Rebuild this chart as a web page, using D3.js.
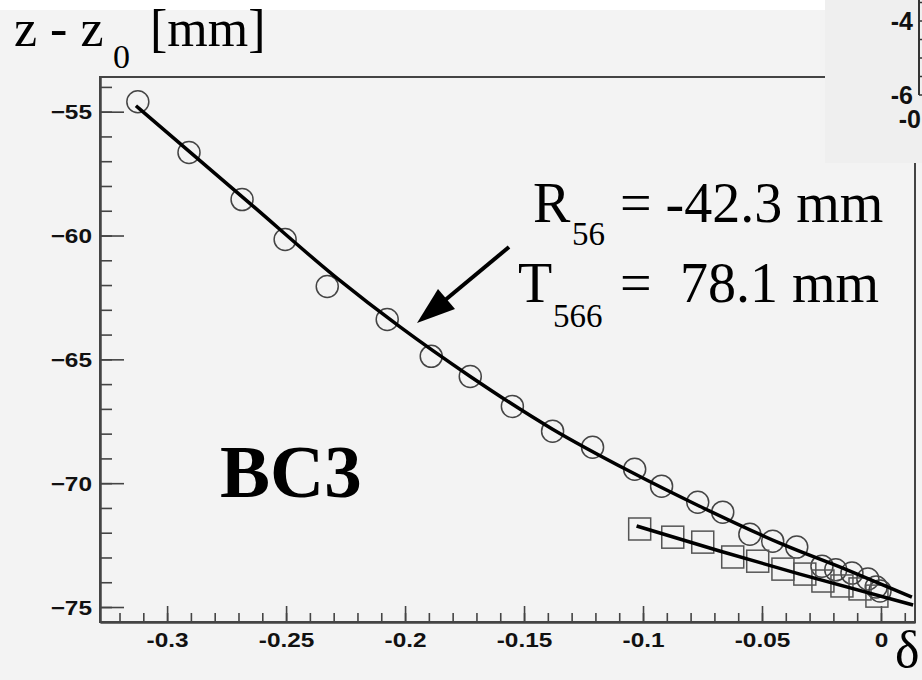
<!DOCTYPE html>
<html>
<head>
<meta charset="utf-8">
<script src="https://cdn.jsdelivr.net/npm/d3@7"></script>
<style>
  body { margin: 0; background: #fff; }
  svg { display: block; }
  .serif { font-family: "Liberation Serif", "Times New Roman", serif; fill: #000; }
</style>
</head>
<body>
<script>
"use strict";
var svg_width = 922;
var svg_height = 680;

// measured points, circles (upper set) and squares (lower set)
var circle_delta = [-0.3123, -0.2908, -0.2685, -0.2504, -0.2327, -0.2075, -0.189, -0.1726, -0.1549, -0.138, -0.1212, -0.1035, -0.0922, -0.077, -0.0665, -0.0551, -0.0455, -0.0354, -0.0248, -0.019, -0.0122, -0.0055, -0.002, -0.0004];
var circle_z = [-54.6, -56.65, -58.55, -60.16, -62.06, -63.39, -64.88, -65.69, -66.9, -67.9, -68.55, -69.44, -70.12, -70.77, -71.17, -72.06, -72.34, -72.58, -73.35, -73.5, -73.63, -73.87, -74.19, -74.35];
var square_delta = [-0.1014, -0.0875, -0.0749, -0.0623, -0.0518, -0.0412, -0.032, -0.0244, -0.0164, -0.0088, -0.0017];
var square_z = [-71.85, -72.18, -72.38, -72.98, -73.15, -73.47, -73.67, -73.95, -74.15, -74.27, -74.56];

// fit curves
var fit_upper_delta = [-0.3131, -0.2656, -0.2285, -0.2024, -0.1726, -0.138, -0.1056, -0.0762, -0.0425, -0.013, 0.013];
var fit_upper_z = [-54.76, -58.67, -61.73, -63.67, -65.69, -67.82, -69.52, -70.93, -72.42, -73.55, -74.6];
var fit_lower_delta = [-0.1027, -0.0678, -0.0341, 0.0135];
var fit_lower_z = [-71.73, -72.74, -73.67, -74.92];

var x_ticks = [-0.3, -0.25, -0.2, -0.15, -0.1, -0.05, 0];
var y_ticks = [-75, -70, -65, -60, -55];
var x_labels = ["-0.3", "-0.25", "-0.2", "-0.15", "-0.1", "-0.05", "0"];

// fragment of the neighbouring plot in the top right corner
var inset_ticks = [-6, -5.5, -5, -4.5, -4, -3.5];
var inset_labels = ["-4", "-6"];

var plot = { left: 100, right: 915, top: 77, bottom: 622 };

var svg = d3.select("body").append("svg")
    .attr("width", svg_width)
    .attr("height", svg_height);

svg.append("rect").attr("width", svg_width).attr("height", svg_height).attr("fill", "#f3f3f3");
svg.append("rect").attr("width", 825).attr("height", 10).attr("fill", "#ffffff");

var x = d3.scaleLinear().domain([-0.3282, 0.0143]).range([plot.left, plot.right]);
var y = d3.scaleLinear().domain([-75.605, -53.6]).range([plot.bottom, plot.top]);

function labelStyle(sel, size) {
    sel.style("font-family", "'Liberation Sans', Arial, sans-serif")
        .style("font-weight", "bold")
        .style("font-size", size + "px")
        .style("fill", "#111");
}

// frame
svg.append("rect")
    .attr("x", plot.left).attr("y", plot.top)
    .attr("width", plot.right - plot.left).attr("height", plot.bottom - plot.top)
    .attr("fill", "none").attr("stroke", "#444").attr("stroke-width", 2);

// y axis (ticks inside, minor every 1 mm)
var yMinor = svg.append("g").attr("transform", "translate(" + plot.left + ",0)")
    .call(d3.axisLeft(y).tickValues(d3.range(-75, -53, 1)).tickSize(-12).tickSizeOuter(0).tickFormat(""));
var yMajor = svg.append("g").attr("transform", "translate(" + plot.left + ",0)")
    .call(d3.axisLeft(y).tickValues(y_ticks).tickSize(-24).tickSizeOuter(0).tickPadding(8));
yMajor.selectAll(".tick text")
    .attr("x", 0)
    .attr("dy", "0.36em")
    .attr("transform", "translate(-8,0) scale(1.22,1)")
    .call(labelStyle, 20);

var xMinor = svg.append("g").attr("transform", "translate(0," + plot.bottom + ")")
    .call(d3.axisBottom(x).tickValues(d3.range(-32, 2, 1).map(function(d) { return d / 100; })).tickSize(-9).tickSizeOuter(0).tickFormat(""));
var xMajor = svg.append("g").attr("transform", "translate(0," + plot.bottom + ")")
    .call(d3.axisBottom(x).tickValues(x_ticks).tickSize(-16).tickSizeOuter(0).tickPadding(12)
        .tickFormat(function(d, i) { return x_labels[i]; }));
xMajor.selectAll(".tick text")
    .attr("y", 0)
    .attr("dy", "0.71em")
    .attr("transform", "translate(0,11) scale(1.22,1)")
    .call(labelStyle, 20);

[yMinor, yMajor, xMinor, xMajor].forEach(function(g) {
    g.select(".domain").attr("stroke", "#444").attr("stroke-width", 2);
    g.selectAll(".tick line").attr("stroke", "#444").attr("stroke-width", 1.6);
});

// markers
svg.append("g").selectAll("circle")
    .data(circle_delta)
    .enter()
    .append("circle")
    .attr("cx", function(d) { return x(d); })
    .attr("cy", function(d, i) { return y(circle_z[i]); })
    .attr("r", 11)
    .attr("fill", "none")
    .attr("stroke", "#444")
    .attr("stroke-width", 1.5);

svg.append("g").selectAll("rect")
    .data(square_delta)
    .enter()
    .append("rect")
    .attr("x", function(d) { return x(d) - 11; })
    .attr("y", function(d, i) { return y(square_z[i]) - 11; })
    .attr("width", 22)
    .attr("height", 22)
    .attr("fill", "none")
    .attr("stroke", "#555")
    .attr("stroke-width", 1.5);

// fits
var line = d3.line()
    .x(function(d) { return x(d[0]); })
    .y(function(d) { return y(d[1]); })
    .curve(d3.curveMonotoneX);

svg.append("path")
    .attr("d", line(d3.zip(fit_upper_delta, fit_upper_z)))
    .attr("fill", "none").attr("stroke", "#000").attr("stroke-width", 3.5);
svg.append("path")
    .attr("d", line(d3.zip(fit_lower_delta, fit_lower_z)))
    .attr("fill", "none").attr("stroke", "#000").attr("stroke-width", 3.5);

// inset corner
var inset = svg.append("g");
inset.append("rect").attr("x", 825).attr("y", 0).attr("width", 97).attr("height", 163).attr("fill", "#efefef");
var iy = d3.scaleLinear().domain([-6, -4]).range([95, 21]);
inset.append("line").attr("x1", 919).attr("x2", 919).attr("y1", 0).attr("y2", iy(-6))
    .attr("stroke", "#333").attr("stroke-width", 2);
inset.selectAll(".itick")
    .data(inset_ticks)
    .enter()
    .append("line")
    .attr("x1", 919).attr("x2", 924)
    .attr("y1", function(d) { return iy(d); })
    .attr("y2", function(d) { return iy(d); })
    .attr("stroke", "#333").attr("stroke-width", 1.5);
inset.selectAll(".ilabel")
    .data(inset_labels)
    .enter()
    .append("text")
    .attr("x", 913)
    .attr("y", function(d) { return iy(+d); })
    .attr("dy", "0.36em")
    .attr("text-anchor", "end")
    .call(labelStyle, 25)
    .text(function(d) { return d; });
inset.append("text")
    .attr("x", 921)
    .attr("y", 119)
    .attr("dy", "0.36em")
    .attr("text-anchor", "end")
    .call(labelStyle, 25)
    .text("-0");

// axis titles
function serifText(tx, ty, size, str, weight) {
    svg.append("text").attr("class", "serif")
        .attr("x", tx).attr("y", ty)
        .style("font-size", size + "px")
        .style("font-weight", weight || "normal")
        .text(str);
}
serifText(14, 46, 52, "z - z");
serifText(113, 68, 34, "0");
serifText(150, 46, 52, "[mm]");
serifText(895, 667, 52, "\u03b4");

// annotation
serifText(533, 222, 56, "R");
serifText(572, 245, 33, "56");
serifText(620, 222, 56, "= -42.3 mm");
serifText(518, 302, 56, "T");
serifText(553, 327, 33, "566");
serifText(620, 302, 56, "=");
serifText(680, 302, 56, "78.1 mm");
serifText(220, 497, 75, "BC3", "bold");

// arrow
svg.append("line")
    .attr("x1", 509).attr("y1", 247).attr("x2", 444).attr("y2", 301)
    .attr("stroke", "#000").attr("stroke-width", 4);
svg.append("path")
    .attr("d", "M417,323 L455,309 L438,289 Z")
    .attr("fill", "#000");
</script>
</body>
</html>
